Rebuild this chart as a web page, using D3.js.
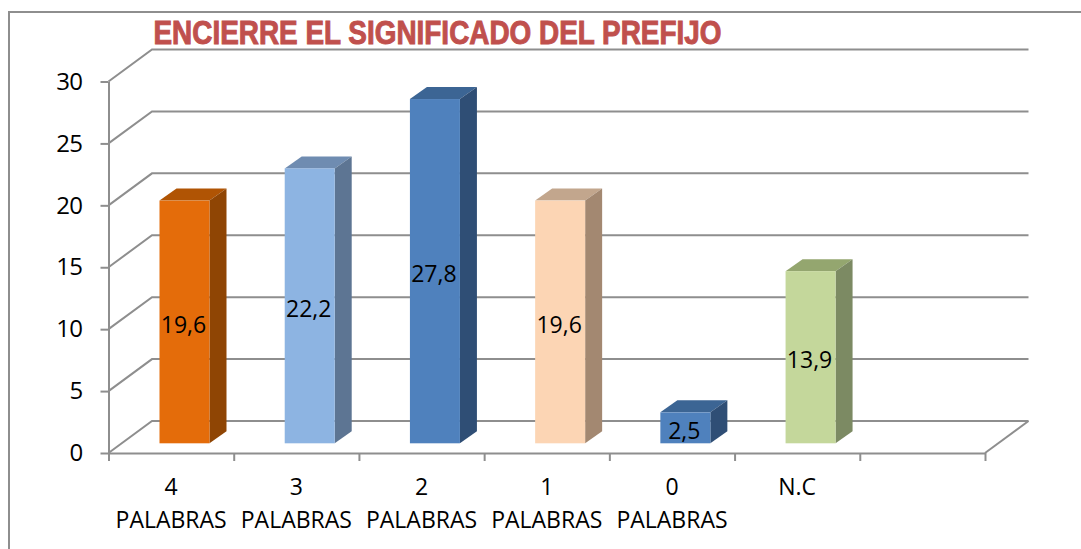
<!DOCTYPE html>
<html>
<head>
<meta charset="utf-8">
<script src="https://cdn.jsdelivr.net/npm/d3@7"></script>
<style>
  html, body { margin: 0; padding: 0; background: #fff; overflow: hidden; }
  text { font-family: "Open Sans", sans-serif; fill: #000; }
</style>
</head>
<body>
<div id="chart"></div>
<script>
// values
let categories = ["4 PALABRAS", "3 PALABRAS", "2 PALABRAS", "1 PALABRAS", "0 PALABRAS", "N.C", ""];
let values = [19.6, 22.2, 27.8, 19.6, 2.5, 13.9];
let valueLabels = ["19,6", "22,2", "27,8", "19,6", "2,5", "13,9"];
let yTicks = [0, 5, 10, 15, 20, 25, 30];
let frontColors = ["#e46c0a", "#8db4e2", "#4f81bd", "#fcd5b4", "#4f81bd", "#c4d79b"];
let topColors = ["#b05404", "#6f8cb1", "#3c6594", "#c2a68d", "#3c6594", "#94a66f"];
let sideColors = ["#8f4504", "#5d7593", "#2f4e75", "#a38871", "#2f4e75", "#7c8a63"];
let titleText = "ENCIERRE EL SIGNIFICADO DEL PREFIJO";

let fullWidth = 1081;
let fullHeight = 549;
let grey = "#8e8e8e";

// plot box of the front plane
let plotLeft = 108.5, plotRight = 985, plotBottom = 453, plotTop = 81.5;
// depth of the floor and of each bar
let depthX = 43.5, depthY = 32;
let barDepthX = 17, barDepthY = 12;
let barOffset = 51, barWidth = 50, barLift = 9.7;

let svg = d3.select("#chart")
  .append("svg")
  .attr("width", fullWidth)
  .attr("height", fullHeight)
  .style("display", "block");

// outer frame, runs off the right and the bottom of the page
svg.append("rect")
  .attr("x", 9)
  .attr("y", 12)
  .attr("width", fullWidth + 20)
  .attr("height", fullHeight + 20)
  .attr("fill", "none")
  .attr("stroke", grey)
  .attr("stroke-width", 2);

let xScale = d3.scaleBand()
  .domain(categories)
  .range([plotLeft, plotRight]);

let yScale = d3.scaleLinear()
  .domain([0, 30])
  .range([plotBottom, plotTop]);

// band edges get the tick marks
let edgeScale = d3.scaleLinear()
  .domain([0, categories.length])
  .range([plotLeft, plotRight]);

// gridlines: diagonal on the side wall, then along the back wall
let grid = svg.append("g");
grid.selectAll("path")
  .data(yTicks)
  .enter()
  .append("path")
  .attr("d", function(d) {
    let y = yScale(d);
    return "M" + plotLeft + "," + y + "L" + (plotLeft + depthX) + "," + (y - depthY) + "H" + (plotRight + depthX);
  })
  .attr("fill", "none")
  .attr("stroke", grey)
  .attr("stroke-width", 2);

// floor edge on the right
grid.append("line")
  .attr("x1", plotRight)
  .attr("y1", plotBottom)
  .attr("x2", plotRight + depthX)
  .attr("y2", plotBottom - depthY)
  .attr("stroke", grey)
  .attr("stroke-width", 2);

// y axis
let yAxis = svg.append("g")
  .attr("transform", "translate(" + plotLeft + ",0)")
  .call(d3.axisLeft(yScale).tickValues(yTicks).tickSize(8).tickSizeOuter(0).tickPadding(18));
yAxis.selectAll("line").attr("stroke", grey).attr("stroke-width", 2);
yAxis.select(".domain").attr("stroke", grey).attr("stroke-width", 2);
yAxis.selectAll("text")
  .style("font-size", "24px")
  .style("letter-spacing", "-0.6px")
  .style("font-family", '"Open Sans", sans-serif')
  .attr("fill", "#000");

// x axis tick marks at the band edges
let xEdges = svg.append("g")
  .attr("transform", "translate(0," + plotBottom + ")")
  .call(d3.axisBottom(edgeScale).ticks(categories.length).tickSize(8).tickSizeOuter(0).tickFormat(""));
xEdges.selectAll("line").attr("stroke", grey).attr("stroke-width", 2);
xEdges.select(".domain").attr("stroke", grey).attr("stroke-width", 2);

// x axis labels, number above the word
let xLabels = svg.append("g")
  .attr("transform", "translate(0," + plotBottom + ")")
  .call(d3.axisBottom(xScale).tickSize(0));
xLabels.select(".domain").remove();
xLabels.selectAll("text").each(function(d) {
  let parts = d.split(" ");
  let label = d3.select(this).text(null)
    .attr("y", null)
    .attr("dy", null)
    .attr("fill", "#000")
    .style("font-size", "23px")
    .style("font-family", '"Open Sans", sans-serif');
  parts.forEach(function(part, i) {
    label.append("tspan")
      .attr("x", 0)
      .attr("y", 42 + i * 33)
      .text(part);
  });
});

// bars
let barData = values.map(function(v, i) {
  return { name: categories[i], value: v, label: valueLabels[i], i: i };
});
let bars = svg.append("g")
  .selectAll("g")
  .data(barData)
  .enter()
  .append("g");

function barX(d) { return xScale(d.name) + barOffset; }
function barY(d) { return yScale(d.value) - barLift; }
function baseY() { return yScale(0) - barLift; }

// top face
bars.append("path")
  .attr("d", function(d) {
    let x = barX(d), y = barY(d);
    return "M" + x + "," + y + "l" + barDepthX + "," + (-barDepthY) + "h" + barWidth +
      "l" + (-barDepthX) + "," + barDepthY + "Z";
  })
  .attr("fill", function(d) { return topColors[d.i]; });

// side face
bars.append("path")
  .attr("d", function(d) {
    let x = barX(d) + barWidth, y = barY(d);
    return "M" + x + "," + y + "l" + barDepthX + "," + (-barDepthY) + "V" + (baseY() - barDepthY) +
      "l" + (-barDepthX) + "," + barDepthY + "Z";
  })
  .attr("fill", function(d) { return sideColors[d.i]; });

// front face
bars.append("rect")
  .attr("x", barX)
  .attr("y", barY)
  .attr("width", barWidth)
  .attr("height", function(d) { return baseY() - barY(d); })
  .attr("fill", function(d) { return frontColors[d.i]; });

// value labels
bars.append("text")
  .attr("x", function(d) { return barX(d) + barWidth / 2 - 1; })
  .attr("y", function(d) { return (barY(d) + baseY()) / 2 + 3; })
  .attr("dy", "0.35em")
  .attr("text-anchor", "middle")
  .style("font-size", "23px")
  .text(function(d) { return d.label; });

// title
svg.append("text")
  .attr("x", 153.5)
  .attr("y", 44)
  .attr("textLength", 568)
  .attr("lengthAdjust", "spacingAndGlyphs")
  .style("font-family", '"Liberation Sans", Arial, sans-serif')
  .style("font-size", "34px")
  .style("font-weight", "bold")
  .style("fill", "#c0504d")
  .style("stroke", "#c0504d")
  .style("stroke-width", 1)
  .text(titleText);
</script>
</body>
</html>
